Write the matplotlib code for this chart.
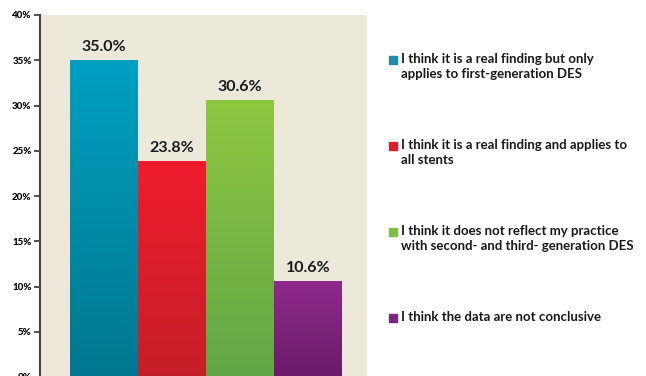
import matplotlib.pyplot as plt
import numpy as np
from matplotlib.colors import LinearSegmentedColormap
from matplotlib.patches import Rectangle

# survey answers and their shares (%)
answers = [
    "I think it is a real finding but only\napplies to first-generation DES",
    "I think it is a real finding and applies to\nall stents",
    "I think it does not reflect my practice\nwith second- and third- generation DES",
    "I think the data are not conclusive",
]
shares = [35.0, 23.8, 30.6, 10.6]
y_ticks = [0, 5, 10, 15, 20, 25, 30, 35, 40]

# gradient ends (top, bottom) and the flat legend colours
tops = ["#00A0C2", "#EE1C2E", "#8EC741", "#8E2A8C"]
bottoms = ["#00778E", "#C61F28", "#62A646", "#6A1C68"]
swatches = ["#1C8DAB", "#E31B2C", "#7DC142", "#7D2580"]

plt.rcParams["font.family"] = ["Lato", "DejaVu Sans"]

fig = plt.figure(figsize=(6.46, 3.76), dpi=100)
ax = fig.add_axes([40 / 646, -1 / 376, 327 / 646, 362 / 376])
ax.set_facecolor("#ECE8DA")

x = np.arange(len(shares))
bars = ax.bar(x, shares, width=1.0, color="none", edgecolor="none")

# fill each bar with a vertical gradient
grad = np.linspace(1, 0, 256).reshape(-1, 1)
for bar, c_top, c_bot, val in zip(bars, tops, bottoms, shares):
    cmap = LinearSegmentedColormap.from_list("g", [c_bot, c_top])
    x0 = bar.get_x()
    ax.imshow(grad, cmap=cmap, aspect="auto", interpolation="bicubic",
              extent=[x0, x0 + bar.get_width(), 0, bar.get_height()], zorder=2)
    ax.text(bar.get_x() + bar.get_width() / 2, val + 0.7, f"{val:.1f}%",
            ha="center", va="bottom", fontsize=11.5, fontweight="bold",
            color="#1a1a1a", zorder=3)

ax.set_xlim(-0.94, 3.87)
ax.set_ylim(0, 40)
ax.set_xticks([])
ax.set_yticks(y_ticks)
ax.set_yticklabels([f"{t}%" for t in y_ticks], fontsize=7, fontweight="black")
ax.tick_params(axis="y", length=4, width=1.2, color="#333333", pad=2)
for side in ["top", "right", "bottom"]:
    ax.spines[side].set_visible(False)
ax.spines["left"].set_color("#444444")
ax.spines["left"].set_linewidth(1.5)

# legend drawn by hand so the swatch sits on the first text line
legend_y = [60, 146, 232, 318]
for label, col, py in zip(answers, swatches, legend_y):
    yf = 1 - py / 376
    fig.patches.append(Rectangle((389 / 646, yf - 4 / 376), 8 / 646, 8 / 376,
                                 transform=fig.transFigure, color=col))
    fig.text(401 / 646, yf + 7 / 376, label, ha="left", va="top",
             fontsize=9.5, fontweight="bold", color="#1a1a1a", linespacing=1.25)

fig.savefig("out.png", dpi=100, facecolor="white")
